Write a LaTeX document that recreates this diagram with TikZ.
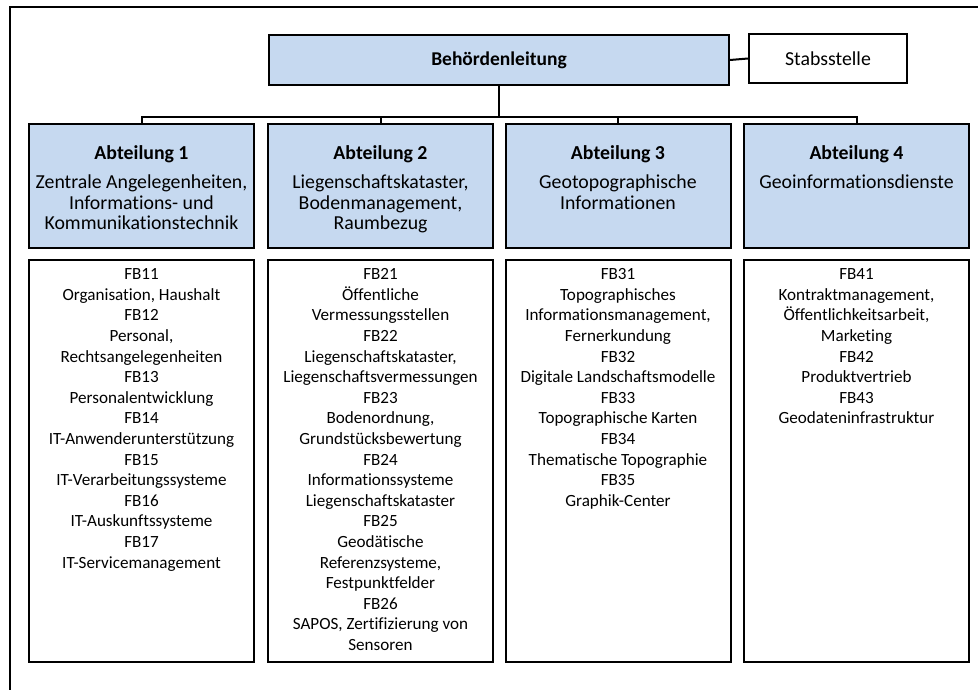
\documentclass[tikz,border=0pt]{standalone}
\usepackage{fontspec}
\setmainfont{Carlito}[Ligatures=NoCommon]
\definecolor{hdrblue}{HTML}{C6D9F0}
\begin{document}
\begin{tikzpicture}[x=1pt,y=-1pt,
  box/.style={draw=black, line width=2pt, rectangle, inner sep=0pt},
  hdrbox/.style={box, fill=hdrblue},
  colhdr/.style={hdrbox, minimum width=225pt, minimum height=124pt},
  colbody/.style={box, fill=white, minimum width=225pt, minimum height=402pt},
  ttl/.style={anchor=base, inner sep=0pt, font=\fontsize{19.8}{20.5}\selectfont\bfseries},
  sub/.style={anchor=north, inner sep=0pt, align=center, font=\fontsize{19.8}{20.5}\selectfont},
  det/.style={anchor=north, inner sep=0pt, align=center, font=\fontsize{17.1}{20.6}\selectfont},
  conn/.style={line width=2pt, line join=miter}
]
\useasboundingbox (0,0) rectangle (978,690);
% outer frame (cropped)
\draw[line width=2pt] (9.5,692) -- (9.5,7.5) -- (980,7.5);

% top level
\node[hdrbox, minimum width=460pt, minimum height=50pt, font=\fontsize{19.5}{20.5}\selectfont\bfseries] (bl) at (499,60) {Behördenleitung};
\node[box, fill=white, minimum width=158pt, minimum height=49pt, font=\fontsize{19.8}{20.5}\selectfont] (st) at (828,58.5) {Stabsstelle};
\draw[conn] (bl.east) -- (st.west);

% column headers
\node[colhdr] (a1) at (141.5,186) {};
\node[colhdr] (a2) at (380.5,186) {};
\node[colhdr] (a3) at (618,186) {};
\node[colhdr] (a4) at (856.5,186) {};

% connectors
\coordinate (j) at (499,117.5);
\draw[conn] (bl.south) -- (j);
\draw[conn] (a1.north) -- (a1.north |- j) -- (a4.north |- j) -- (a4.north);
\draw[conn] (a2.north) -- (a2.north |- j);
\draw[conn] (a3.north) -- (a3.north |- j);

% header texts
\node[ttl] (a1t) at (141.5,159.3) {Abteilung 1};
\node[ttl] (a2t) at (380.5,159.3) {Abteilung 2};
\node[ttl] (a3t) at (618,159.3) {Abteilung 3};
\node[ttl] (a4t) at (856.5,159.3) {Abteilung 4};
\node[sub] (a1s) at (141.5,174) {\strut Zentrale Angelegenheiten,\\Informations- und\\Kommunikationstechnik};
\node[sub] (a2s) at (380.5,174) {\strut Liegenschaftskataster,\\Bodenmanagement,\\Raumbezug};
\node[sub] (a3s) at (618,174) {\strut Geotopographische\\Informationen};
\node[sub] (a4s) at (856.5,174) {\strut Geoinformationsdienste};

% detail boxes
\node[colbody] (b1) at (141.5,461) {};
\node[colbody] (b2) at (380.5,461) {};
\node[colbody] (b3) at (618,461) {};
\node[colbody] (b4) at (856.5,461) {};

\node[det] (b1t) at (141.5,265.1) {\strut FB11\\Organisation, Haushalt\\FB12\\Personal,\\Rechtsangelegenheiten\\FB13\\Personalentwicklung\\FB14\\IT-Anwenderunterstützung\\FB15\\IT-Verarbeitungssysteme\\FB16\\IT-Auskunftssysteme\\FB17\\IT-Servicemanagement};
\node[det] (b2t) at (380.5,265.1) {\strut FB21\\Öffentliche\\Vermessungsstellen\\FB22\\Liegenschaftskataster,\\Liegenschaftsvermessungen\\FB23\\Bodenordnung,\\Grundstücksbewertung\\FB24\\Informationssysteme\\Liegenschaftskataster\\FB25\\Geodätische\\Referenzsysteme,\\Festpunktfelder\\FB26\\SAPOS, Zertifizierung von\\Sensoren};
\node[det] (b3t) at (618,265.1) {\strut FB31\\Topographisches\\Informationsmanagement,\\Fernerkundung\\FB32\\Digitale Landschaftsmodelle\\FB33\\Topographische Karten\\FB34\\Thematische Topographie\\FB35\\Graphik-Center};
\node[det] (b4t) at (856.5,265.1) {\strut FB41\\Kontraktmanagement,\\Öffentlichkeitsarbeit,\\Marketing\\FB42\\Produktvertrieb\\FB43\\Geodateninfrastruktur};
\end{tikzpicture}
\end{document}
